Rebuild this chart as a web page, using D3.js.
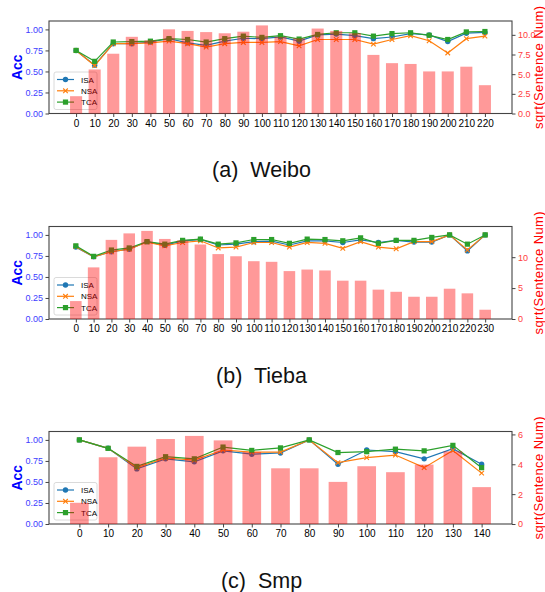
<!DOCTYPE html>
<html>
<head>
<meta charset="utf-8">
<script src="https://cdn.jsdelivr.net/npm/d3@7"></script>
<style>
  body { margin: 0; background: #fff; }
  svg { display: block; }
</style>
</head>
<body>
<div id="chart"></div>
<script>
// categories (sentence length buckets)
const weiboCats = d3.range(0, 230, 10);
const tiebaCats = d3.range(0, 240, 10);
const smpCats = d3.range(0, 150, 10);

// sqrt(sentence num) bars
const weiboBars = [2.2, 5.6, 7.6, 9.75, 9.3, 10.7, 10.5, 10.35, 10.2, 10.4, 11.2, 9.75, 9.55, 10.8, 10.5, 10.2, 7.45, 6.4, 6.3, 5.35, 5.35, 5.95, 3.6];
const tiebaBars = [2.9, 8.35, 12.8, 13.85, 14.25, 12.95, 12.7, 12.05, 10.5, 10.15, 9.35, 9.25, 7.75, 8.0, 7.85, 6.2, 6.2, 4.75, 4.4, 3.6, 3.6, 4.9, 4.15, 1.5];
const smpBars = [1.42, 4.47, 5.18, 5.69, 5.9, 5.6, 4.82, 3.73, 3.73, 2.82, 3.87, 3.47, 3.98, 4.87, 2.47];

// accuracy series
const weiboISA = [0.75, 0.575, 0.83, 0.83, 0.85, 0.89, 0.84, 0.81, 0.86, 0.895, 0.89, 0.91, 0.86, 0.935, 0.945, 0.925, 0.89, 0.91, 0.95, 0.935, 0.855, 0.955, 0.965];
const weiboNSA = [0.75, 0.57, 0.83, 0.83, 0.84, 0.86, 0.83, 0.79, 0.83, 0.845, 0.845, 0.855, 0.805, 0.88, 0.88, 0.88, 0.825, 0.88, 0.925, 0.865, 0.72, 0.89, 0.92];
const weiboTCA = [0.75, 0.62, 0.85, 0.855, 0.86, 0.89, 0.88, 0.85, 0.89, 0.92, 0.905, 0.925, 0.885, 0.94, 0.96, 0.96, 0.92, 0.95, 0.96, 0.93, 0.88, 0.97, 0.975];

const tiebaISA = [0.855, 0.74, 0.80, 0.83, 0.92, 0.875, 0.93, 0.945, 0.88, 0.89, 0.92, 0.925, 0.88, 0.93, 0.93, 0.91, 0.94, 0.91, 0.935, 0.915, 0.915, 1.0, 0.81, 1.0];
const tiebaNSA = [0.86, 0.74, 0.80, 0.83, 0.915, 0.87, 0.91, 0.93, 0.845, 0.855, 0.91, 0.91, 0.855, 0.91, 0.90, 0.84, 0.92, 0.855, 0.835, 0.92, 0.92, 1.0, 0.82, 1.0];
const tiebaTCA = [0.87, 0.745, 0.82, 0.845, 0.92, 0.89, 0.935, 0.95, 0.89, 0.905, 0.945, 0.945, 0.90, 0.95, 0.945, 0.93, 0.965, 0.90, 0.935, 0.935, 0.97, 1.0, 0.89, 1.0];

const smpISA = [1.0, 0.9, 0.655, 0.775, 0.74, 0.87, 0.83, 0.845, 1.0, 0.71, 0.88, 0.86, 0.775, 0.895, 0.71];
const smpNSA = [1.0, 0.9, 0.67, 0.785, 0.76, 0.88, 0.855, 0.855, 1.0, 0.73, 0.79, 0.82, 0.67, 0.875, 0.605];
const smpTCA = [1.0, 0.9, 0.685, 0.80, 0.775, 0.915, 0.875, 0.905, 1.0, 0.85, 0.86, 0.89, 0.87, 0.935, 0.67];

const accTicks = [0, 0.25, 0.5, 0.75, 1.0];
const seriesNames = ["ISA", "NSA", "TCA"];
const seriesColors = ["#1f77b4", "#ff7f0e", "#2ca02c"];

const W = 545, H = 592;
const left = 49, right = 512, axH = 92.5;
const barW = 0.65;
const tickFont = "'Liberation Sans', Arial, sans-serif";

const svg = d3.select("#chart").append("svg")
  .attr("width", W).attr("height", H);

function panel(p) {
  const top = p.top, bottom = top + axH;
  const n = p.cats.length;
  // matplotlib-like 5% margins around the bars
  const span = (n - 1) + barW;
  const x = d3.scaleLinear()
    .domain([-barW / 2 - 0.05 * span, n - 1 + barW / 2 + 0.05 * span])
    .range([left, right]);
  const yL = d3.scaleLinear().domain([0, 1.1]).range([bottom, top]);
  const yR = d3.scaleLinear().domain([0, d3.max(p.bars) * 1.05]).range([bottom, top]);

  const g = svg.append("g");

  // axes
  const xAxis = g.append("g").attr("transform", `translate(0,${bottom})`)
    .call(d3.axisBottom(x).tickValues(d3.range(n)).tickFormat(i => p.cats[i]).tickSize(3.5).tickPadding(2.5));
  xAxis.selectAll("text").attr("font-family", tickFont).attr("font-size", 10).attr("fill", "#000");

  const lAxis = g.append("g").attr("transform", `translate(${left},0)`)
    .call(d3.axisLeft(yL).tickValues(accTicks).tickFormat(d3.format(".2f")).tickSize(3.5).tickPadding(2.5));
  lAxis.selectAll("text").attr("font-family", tickFont).attr("font-size", 9).attr("fill", "#3c3cff");

  const rAxis = g.append("g").attr("transform", `translate(${right},0)`)
    .call(d3.axisRight(yR).tickValues(p.rTicks).tickFormat(d3.format(p.rFmt)).tickSize(3.5).tickPadding(2.5));
  rAxis.selectAll("text").attr("font-family", tickFont).attr("font-size", 9).attr("fill", "#ff3c3c");

  g.selectAll(".domain").remove();
  g.selectAll(".tick line").attr("stroke", "#444");

  // frame
  g.append("rect")
    .attr("x", left).attr("y", top)
    .attr("width", right - left).attr("height", axH)
    .attr("fill", "none").attr("stroke", "#444").attr("stroke-width", 1.1);

  // accuracy lines
  const series = [p.isa, p.nsa, p.tca];
  series.forEach((vals, k) => {
    const c = seriesColors[k];
    g.append("path")
      .datum(vals)
      .attr("fill", "none").attr("stroke", c).attr("stroke-width", 1.2)
      .attr("d", d3.line().x((d, i) => x(i)).y(d => yL(d)));
    drawMarkers(g, vals.map((d, i) => [x(i), yL(d)]), k, c);
  });

  // legend
  const lg = g.append("g").attr("transform", `translate(${left + 5},${bottom - 41.5})`);
  lg.append("rect").attr("width", 43).attr("height", 37.5).attr("rx", 2)
    .attr("fill", "#fff").attr("fill-opacity", 0.8)
    .attr("stroke", "#d0d0d0").attr("stroke-width", 0.8);
  seriesNames.forEach((name, k) => {
    const yy = 7.5 + k * 11.3;
    lg.append("line").attr("x1", 3).attr("x2", 20).attr("y1", yy).attr("y2", yy)
      .attr("stroke", seriesColors[k]).attr("stroke-width", 1.2);
    drawMarkers(lg, [[11.5, yy]], k, seriesColors[k]);
    lg.append("text").attr("x", 27).attr("y", yy + 3)
      .attr("font-family", tickFont).attr("font-size", 8).attr("fill", "#000")
      .text(name);
  });

  // bars on the twin axis, drawn on top with alpha
  g.append("g").selectAll("rect")
    .data(p.bars)
    .join("rect")
    .attr("x", (d, i) => x(i - barW / 2))
    .attr("width", x(barW) - x(0))
    .attr("y", d => yR(d))
    .attr("height", d => bottom - yR(d))
    .attr("fill", "red").attr("fill-opacity", 0.4);

  // axis labels
  g.append("text")
    .attr("transform", `translate(17,${top + axH / 2}) rotate(-90)`)
    .attr("text-anchor", "middle").attr("dy", "0.35em")
    .attr("font-family", tickFont).attr("font-size", 14).attr("font-weight", "bold")
    .attr("fill", "blue").text("Acc");
  g.append("text")
    .attr("transform", `translate(538,${top + axH / 2}) rotate(-90)`)
    .attr("text-anchor", "middle").attr("dy", "0.35em")
    .attr("font-family", tickFont).attr("font-size", 13).attr("letter-spacing", 0.4)
    .attr("fill", "red").text("sqrt(Sentence Num)");

  // caption
  svg.append("text")
    .attr("x", 261.5).attr("y", bottom + 63.5)
    .attr("text-anchor", "middle")
    .attr("font-family", "'Liberation Sans', Arial, sans-serif").attr("font-size", 21.5)
    .attr("fill", "#111").style("white-space", "pre")
    .text(p.caption);
}

function drawMarkers(g, pts, k, c) {
  if (k === 0) {
    g.append("g").selectAll("circle").data(pts).join("circle")
      .attr("cx", d => d[0]).attr("cy", d => d[1]).attr("r", 2.7).attr("fill", c);
  } else if (k === 1) {
    const s = 2.3;
    g.append("g").selectAll("path").data(pts).join("path")
      .attr("d", d => `M${d[0] - s},${d[1] - s}L${d[0] + s},${d[1] + s}M${d[0] - s},${d[1] + s}L${d[0] + s},${d[1] - s}`)
      .attr("stroke", c).attr("stroke-width", 1.1).attr("fill", "none");
  } else {
    const s = 2.6;
    g.append("g").selectAll("rect").data(pts).join("rect")
      .attr("x", d => d[0] - s).attr("y", d => d[1] - s)
      .attr("width", 2 * s).attr("height", 2 * s).attr("fill", c);
  }
}

panel({ top: 21, cats: weiboCats, bars: weiboBars, isa: weiboISA, nsa: weiboNSA, tca: weiboTCA,
  rTicks: [0, 2.5, 5, 7.5, 10], rFmt: ".1f", caption: "(a)  Weibo" });
panel({ top: 226.5, cats: tiebaCats, bars: tiebaBars, isa: tiebaISA, nsa: tiebaNSA, tca: tiebaTCA,
  rTicks: [0, 5, 10], rFmt: "d", caption: "(b)  Tieba" });
panel({ top: 431.5, cats: smpCats, bars: smpBars, isa: smpISA, nsa: smpNSA, tca: smpTCA,
  rTicks: [0, 2, 4, 6], rFmt: "d", caption: "(c)  Smp" });
</script>
</body>
</html>
